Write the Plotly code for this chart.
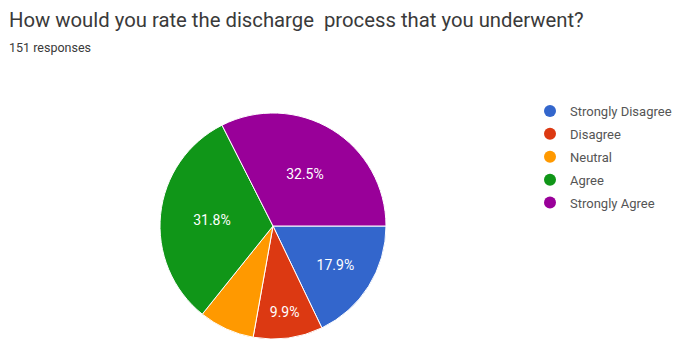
import plotly.graph_objects as go

categories = ["Strongly Disagree", "Disagree", "Neutral", "Agree", "Strongly Agree"]
counts = [27, 15, 12, 48, 49]
slice_labels = ["17.9%", "9.9%", "", "31.8%", "32.5%"]
colors = ["#3366cc", "#dc3912", "#ff9900", "#109618", "#990099"]

W, H = 681, 347
cx, cy, r = 273, 226, 113

fig = go.Figure()
fig.add_trace(go.Pie(
    labels=categories, values=counts, text=slice_labels,
    texttemplate="%{text}", textposition="inside", insidetextorientation="horizontal",
    textfont=dict(color="white", size=14, family="Roboto"),
    marker=dict(colors=colors, line=dict(color="white", width=1)),
    sort=False, direction="clockwise", rotation=90, showlegend=False,
    hoverinfo="label+percent",
    domain=dict(x=[(cx - r) / W, (cx + r) / W], y=[(H - cy - r) / H, (H - cy + r) / H]),
))
for name, c in zip(categories, colors):
    fig.add_trace(go.Scatter(x=[None], y=[None], mode="markers", name=name, legendgroup=name,
                             marker=dict(color=c, size=12, symbol="circle")))

fig.update_layout(
    width=W, height=H, margin=dict(l=0, r=0, t=0, b=0),
    paper_bgcolor="white", plot_bgcolor="white",
    xaxis=dict(visible=False), yaxis=dict(visible=False),
    font=dict(family="Roboto", color="#444"),
    legend=dict(x=530 / W, y=1 - 96 / H, xanchor="left", yanchor="top",
                font=dict(size=13, color="#555"), tracegroupgap=3, itemwidth=30),
    annotations=[
        dict(text="How would you rate the discharge  process that you underwent?",
             x=7 / W, y=1 - 20 / H, xref="paper", yref="paper", xanchor="left", yanchor="middle",
             showarrow=False, font=dict(size=20.3, color="#3a3a3a", family="Roboto")),
        dict(text="151 responses", x=7 / W, y=1 - 48 / H, xref="paper", yref="paper",
             xanchor="left", yanchor="middle", showarrow=False,
             font=dict(size=12.5, color="#3a3a3a", family="Roboto")),
    ],
)
fig.write_html("out.html", config={"displayModeBar": False},
               post_script="document.body.style.margin='0px';")
